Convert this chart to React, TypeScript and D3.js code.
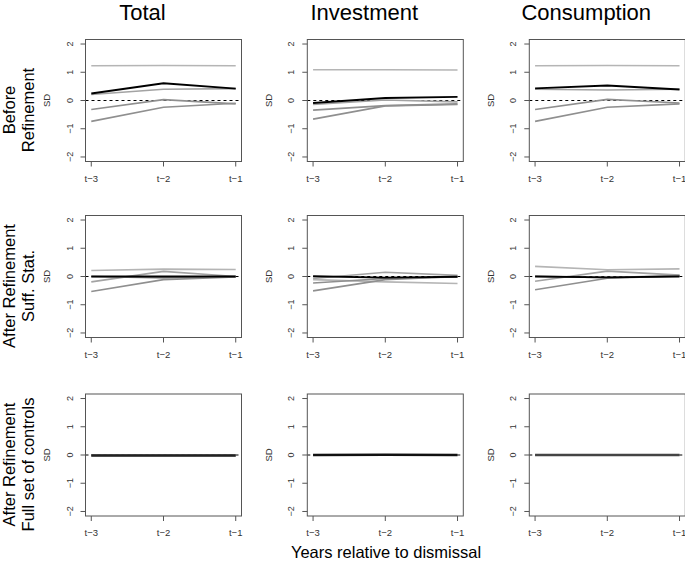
import React from "react";
import * as d3 from "d3";

const periods = ["t−3", "t−2", "t−1"];
const columnTitles = ["Total", "Investment", "Consumption"];
const rowLabels = [
  ["Before", "Refinement"],
  ["After Refinement", "Suff. Stat."],
  ["After Refinement", "Full set of controls"],
];
const yTicks = [-2, -1, 0, 1, 2];
const xAxisLabel = "Years relative to dismissal";
const yAxisLabel = "SD";

// Each panel: 5 series (4 gray covariates, last one black)
const beforeTotal = [
  [1.23, 1.24, 1.23],
  [0.21, 0.4, 0.42],
  [-0.32, 0.03, -0.12],
  [-0.74, -0.24, -0.1],
  [0.25, 0.61, 0.42],
];
const beforeInvestment = [
  [1.09, 1.09, 1.08],
  [-0.14, 0.02, -0.05],
  [-0.34, -0.18, -0.12],
  [-0.66, -0.19, -0.14],
  [-0.09, 0.09, 0.13],
];
const beforeConsumption = [
  [1.23, 1.24, 1.23],
  [0.4, 0.37, 0.4],
  [-0.32, 0.04, -0.09],
  [-0.74, -0.24, -0.12],
  [0.43, 0.53, 0.39],
];
const suffTotal = [
  [0.21, 0.26, 0.25],
  [-0.19, 0.18, 0.0],
  [-0.53, -0.11, -0.02],
  [0.0, -0.05, 0.0],
  [0.0, 0.0, 0.0],
];
const suffInvestment = [
  [-0.11, -0.19, -0.25],
  [-0.07, 0.15, 0.04],
  [-0.23, -0.07, -0.02],
  [-0.51, -0.11, 0.0],
  [0.01, -0.04, -0.01],
];
const suffConsumption = [
  [0.36, 0.24, 0.27],
  [-0.17, 0.19, 0.05],
  [-0.47, -0.06, 0.02],
  [0.01, -0.04, 0.03],
  [0.0, -0.03, 0.0],
];
const fullTotal = [
  [-0.01, -0.01, -0.01],
  [-0.02, -0.02, -0.02],
  [-0.01, -0.02, -0.01],
  [-0.02, -0.01, -0.02],
  [-0.02, -0.02, -0.02],
];
const fullInvestment = [
  [0.0, 0.01, 0.0],
  [0.01, 0.0, 0.01],
  [0.0, 0.0, 0.0],
  [-0.01, 0.0, 0.0],
  [0.0, 0.01, 0.0],
];
const fullConsumption = [
  [0.0, 0.0, 0.0],
  [0.0, 0.0, 0.0],
  [0.0, 0.0, 0.0],
  [0.0, 0.0, 0.0],
  [0.0, 0.0, 0.0],
];

const panelData = [
  [beforeTotal, beforeInvestment, beforeConsumption],
  [suffTotal, suffInvestment, suffConsumption],
  [fullTotal, fullInvestment, fullConsumption],
];

const seriesColors = ["#b5b5b5", "#a3a3a3", "#8f8f8f", "#8f8f8f", "#000000"];
const seriesWidths = [1.6, 1.6, 1.6, 1.6, 1.9];
const rowFullColors = ["#222", "#111", "#444"];

const W = 685;
const H = 563;
const boxLefts = [85.5, 307.3, 529.3];
const boxTops = [39.5, 215.5, 394];
const boxW = 156;
const boxH = 122;
const font = "'Liberation Sans', Arial, Helvetica, sans-serif";

function Panel({ r, c }: { r: number; c: number }) {
  const left = boxLefts[c];
  const top = boxTops[r];
  const x = d3.scaleLinear().domain([-0.08, 2.08]).range([left, left + boxW]);
  const y = d3.scaleLinear().domain([-2.16, 2.16]).range([top + boxH, top]);
  const line = d3
    .line<number>()
    .x((_, i) => x(i))
    .y((d) => y(d));
  const data = panelData[r][c];
  return (
    <g>
      <line
        x1={left}
        x2={left + boxW}
        y1={y(0)}
        y2={y(0)}
        stroke="#000"
        strokeWidth={1}
        strokeDasharray="3,3"
      />
      {data.map((s, i) => (
        <path
          key={i}
          d={line(s) || ""}
          fill="none"
          stroke={r === 2 && i === 4 ? rowFullColors[c] : seriesColors[i]}
          strokeWidth={r === 2 && i === 4 ? 2.4 : seriesWidths[i]}
        />
      ))}
      <rect x={left} y={top} width={boxW} height={boxH} fill="none" stroke="#555" strokeWidth={1} />
      {yTicks.map((t) => (
        <g key={t}>
          <line x1={left - 5} x2={left} y1={y(t)} y2={y(t)} stroke="#555" />
          <text
            transform={`translate(${left - 13},${y(t)}) rotate(-90)`}
            textAnchor="middle"
            fontSize={9}
            fontFamily={font}
            fill="#333"
          >
            {t < 0 ? `−${-t}` : `${t}`}
          </text>
        </g>
      ))}
      {periods.map((p, i) => (
        <g key={p}>
          <line x1={x(i)} x2={x(i)} y1={top + boxH} y2={top + boxH + 5} stroke="#555" />
          <text
            x={x(i)}
            y={top + boxH + 20}
            textAnchor="middle"
            fontSize={9.5}
            fontFamily={font}
            fill="#333"
          >
            {p}
          </text>
        </g>
      ))}
      <text
        transform={`translate(${left - 35.5},${top + boxH / 2}) rotate(-90)`}
        textAnchor="middle"
        fontSize={9.5}
        fontFamily={font}
        fill="#333"
      >
        {yAxisLabel}
      </text>
    </g>
  );
}

export default function App() {
  return (
    <svg
      width={W}
      height={H}
      style={{ position: "absolute", left: 0, top: 0, background: "#fff" }}
    >
      <rect x={0} y={0} width={W} height={H} fill="#fff" />
      {columnTitles.map((t, c) => (
        <text
          key={t}
          x={boxLefts[c] + 57}
          y={20}
          textAnchor="middle"
          fontSize={22}
          fontFamily={font}
          fill="#000"
        >
          {t}
        </text>
      ))}
      {rowLabels.map((lines, r) => (
        <g key={r}>
          {lines.map((l, j) => (
            <text
              key={j}
              transform={`translate(${15 + j * 18.5},${boxTops[r] + boxH / 2 + 9.5}) rotate(-90)`}
              textAnchor="middle"
              fontSize={16.5}
              fontFamily={font}
              fill="#000"
            >
              {l}
            </text>
          ))}
        </g>
      ))}
      {panelData.map((row, r) =>
        row.map((_, c) => <Panel key={`${r}-${c}`} r={r} c={c} />)
      )}
      <text x={386} y={558} textAnchor="middle" fontSize={16.5} fontFamily={font} fill="#000">
        {xAxisLabel}
      </text>
    </svg>
  );
}
